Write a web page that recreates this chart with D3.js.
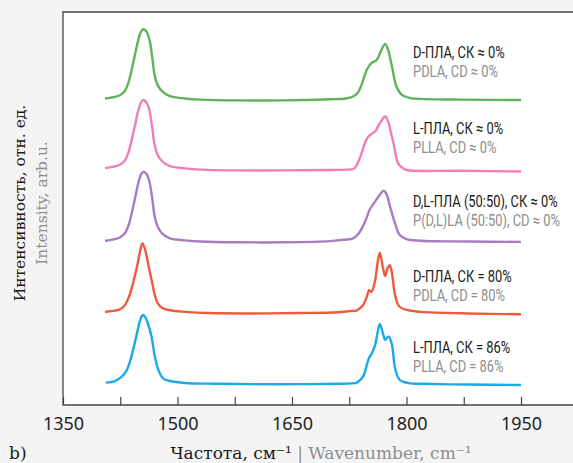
<!DOCTYPE html>
<html>
<head>
<meta charset="utf-8">
<script src="https://cdn.jsdelivr.net/npm/d3@7"></script>
<style>
  html, body { margin: 0; padding: 0; background: #f4f4f4; overflow: hidden; }
  svg { display: block; }
  .axis-title { font-family: 'DejaVu Serif', serif; font-size: 15.5px; }
  .x-title { font-size: 17px; }
  .tick-label { font-family: 'Noto Sans', sans-serif; font-size: 18px; fill: #222; }
  .series-label { font-family: 'Roboto', 'Noto Sans', sans-serif; font-size: 16.5px; }
</style>
</head>
<body>
<svg id="chart"></svg>
<script>
// x axis: ticks every 75 cm-1, labels every 150
const tickValues = [1350, 1425, 1500, 1575, 1650, 1725, 1800, 1875, 1950];
const tickLabels = [1350, 1500, 1650, 1800, 1950];

const namesRu = ['D-ПЛА, СК ≈ 0%', 'L-ПЛА, СК ≈ 0%', 'D,L-ПЛА (50:50), СК ≈ 0%', 'D-ПЛА, СК = 80%', 'L-ПЛА, СК = 86%'];
const namesEn = ['PDLA, CD ≈ 0%', 'PLLA, CD ≈ 0%', 'P(D,L)LA (50:50), CD ≈ 0%', 'PDLA, CD = 80%', 'PLLA, CD = 86%'];

// vertical offset of each spectrum (arb. units)
const offsets = [7.80, 6.03, 4.18, 2.37, 0.57];

// [wavenumber, intensity]
const pdlaAmorph = [
  [1405, 0.00], [1418, 0.04], [1425, 0.09], [1431, 0.19], [1436, 0.42], [1440, 0.73], [1444, 1.08],
  [1448, 1.44], [1452, 1.69], [1455, 1.76], [1459, 1.71], [1463, 1.52], [1467, 1.03], [1470, 0.60],
  [1474, 0.34], [1480, 0.18], [1490, 0.06], [1510, 0.00], [1530, -0.03], [1580, -0.05], [1640, -0.05],
  [1700, -0.02], [1720, 0.00], [1730, 0.05], [1736, 0.14], [1741, 0.34], [1748, 0.73], [1754, 0.90],
  [1761, 0.98], [1767, 1.23], [1772, 1.39], [1776, 1.23], [1781, 0.81], [1787, 0.30], [1794, 0.09],
  [1805, 0.01], [1818, -0.01], [1870, -0.03], [1950, -0.04]
];
const pllaAmorph = [
  [1405, 0.00], [1418, 0.04], [1425, 0.09], [1431, 0.19], [1436, 0.41], [1440, 0.72], [1444, 1.06],
  [1448, 1.42], [1452, 1.66], [1455, 1.73], [1459, 1.68], [1463, 1.49], [1467, 1.01], [1470, 0.59],
  [1474, 0.33], [1480, 0.17], [1490, 0.05], [1510, -0.01], [1530, -0.04], [1580, -0.06], [1640, -0.06],
  [1700, -0.05], [1722, -0.04], [1731, -0.02], [1736, 0.12], [1741, 0.37], [1746, 0.66], [1750, 0.80],
  [1755, 0.88], [1759, 0.93], [1765, 1.14], [1772, 1.31], [1776, 1.18], [1779, 0.95], [1783, 0.63],
  [1789, 0.12], [1795, 0.00], [1800, -0.05], [1870, -0.07], [1950, -0.09]
];
const pdllaAmorph = [
  [1405, 0.00], [1418, 0.04], [1425, 0.09], [1431, 0.19], [1436, 0.40], [1440, 0.70], [1444, 1.04],
  [1448, 1.42], [1452, 1.68], [1455, 1.75], [1459, 1.71], [1463, 1.52], [1467, 1.06], [1470, 0.63],
  [1474, 0.36], [1480, 0.18], [1490, 0.06], [1510, 0.01], [1530, -0.02], [1580, -0.04], [1640, -0.04],
  [1700, -0.01], [1713, 0.02], [1730, 0.06], [1739, 0.23], [1746, 0.50], [1752, 0.80], [1759, 1.00],
  [1765, 1.17], [1770, 1.27], [1774, 1.18], [1778, 0.90], [1785, 0.44], [1791, 0.15], [1800, 0.04],
  [1818, 0.00], [1880, -0.02], [1950, -0.03]
];
const pdlaCryst = [
  [1405, 0.00], [1418, 0.03], [1425, 0.07], [1431, 0.17], [1436, 0.36], [1440, 0.60], [1444, 0.90],
  [1448, 1.25], [1451, 1.55], [1454, 1.74], [1457, 1.62], [1460, 1.38], [1463, 1.08], [1466, 0.82],
  [1470, 0.45], [1474, 0.22], [1480, 0.10], [1490, 0.04], [1510, 0.00], [1540, -0.03], [1600, -0.04],
  [1660, -0.03], [1710, -0.01], [1725, 0.02], [1735, 0.04], [1743, 0.17], [1748, 0.38], [1751, 0.55],
  [1754, 0.51], [1759, 0.81], [1762, 1.23], [1765, 1.50], [1769, 1.14], [1772, 0.91], [1775, 1.10],
  [1778, 1.19], [1781, 0.98], [1785, 0.43], [1791, 0.13], [1805, 0.03], [1818, 0.00], [1880, -0.04],
  [1950, -0.06]
];
const pllaCryst = [
  [1406, 0.00], [1418, 0.04], [1427, 0.15], [1433, 0.30], [1438, 0.55], [1442, 0.85], [1446, 1.17],
  [1450, 1.52], [1453, 1.68], [1455, 1.72], [1458, 1.66], [1462, 1.45], [1466, 1.17], [1470, 0.70],
  [1475, 0.32], [1481, 0.11], [1490, 0.04], [1510, -0.01], [1550, -0.03], [1600, -0.04], [1660, -0.04],
  [1710, -0.03], [1728, -0.02], [1735, 0.00], [1743, 0.15], [1748, 0.45], [1751, 0.63], [1754, 0.72],
  [1759, 0.96], [1762, 1.26], [1765, 1.49], [1769, 1.26], [1772, 1.09], [1775, 1.15], [1777, 1.17],
  [1781, 0.96], [1785, 0.37], [1791, 0.07], [1805, -0.02], [1818, -0.03], [1880, -0.05], [1950, -0.06]
];

const spectra = [pdlaAmorph, pllaAmorph, pdllaAmorph, pdlaCryst, pllaCryst];
const colors = ['#5fb35d', '#f27eb8', '#a97bc1', '#f05a3c', '#1ca9e8'];

const width = 573;
const height = 463;
const plot = { left: 63, top: 12, right: 573, bottom: 405 };

const svg = d3.select('#chart').attr('width', width).attr('height', height);

// white plot area
svg.append('rect')
  .attr('x', plot.left)
  .attr('y', plot.top)
  .attr('width', plot.right - plot.left)
  .attr('height', plot.bottom - plot.top)
  .attr('fill', '#fff');

const x = d3.scaleLinear().domain([1350, 1950]).range([63, 521]);
const y = d3.scaleLinear().domain([0, 10]).range([plot.bottom, plot.top]);

// x axis, ticks pointing inside
const xAxis = svg.append('g')
  .attr('transform', `translate(0,${plot.bottom})`)
  .call(
    d3.axisBottom(x)
      .tickValues(tickValues)
      .tickSize(-8)
      .tickFormat((d) => (tickLabels.includes(d) ? d : ''))
  );
xAxis.select('.domain').remove();
xAxis.selectAll('.tick line').attr('stroke', '#444').attr('stroke-width', 1.2);
xAxis.selectAll('.tick text')
  .attr('class', 'tick-label')
  .attr('y', 12)
  .attr('dy', '0.71em');

// frame: top, left, bottom (open on the right)
svg.append('path')
  .attr('d', `M${plot.right},${plot.top}H${plot.left}V${plot.bottom}H${plot.right}`)
  .attr('fill', 'none')
  .attr('stroke', '#444')
  .attr('stroke-width', 1.3);

const line = d3.line()
  .x((d) => x(d[0]))
  .y((d) => y(d[1]))
  .curve(d3.curveCatmullRom.alpha(0.5));

spectra.forEach((s, i) => {
  svg.append('path')
    .datum(s.map((d) => [d[0], d[1] + offsets[i]]))
    .attr('fill', 'none')
    .attr('stroke', colors[i])
    .attr('stroke-width', 2.4)
    .attr('stroke-linejoin', 'round')
    .attr('d', line);
});

// series labels (condensed look: squeeze horizontally)
const labelTop = [52, 128, 201, 276, 347];
const labels = svg.append('g');
namesRu.forEach((name, i) => {
  labels.append('text')
    .attr('class', 'series-label')
    .attr('x', 0)
    .attr('y', labelTop[i])
    .attr('dy', '0.35em')
    .attr('fill', '#1a1a1a')
    .text(name);
  labels.append('text')
    .attr('class', 'series-label')
    .attr('x', 0)
    .attr('y', labelTop[i] + 19.5)
    .attr('dy', '0.35em')
    .attr('fill', '#8d8d8d')
    .text(namesEn[i]);
});
// widest label is about 147px wide in the original
const widest = d3.max(labels.selectAll('text').nodes(), (n) => n.getComputedTextLength());
labels.attr('transform', `translate(413,0) scale(${147 / widest},1)`);

// y title, two lines
svg.append('text')
  .attr('class', 'axis-title')
  .attr('transform', 'translate(20,203) rotate(-90)')
  .attr('text-anchor', 'middle')
  .attr('dy', '0.35em')
  .attr('fill', '#1a1a1a')
  .text('Интенсивность, отн. ед.');
svg.append('text')
  .attr('class', 'axis-title')
  .attr('transform', 'translate(42,203) rotate(-90)')
  .attr('text-anchor', 'middle')
  .attr('dy', '0.35em')
  .attr('fill', '#8d8d8d')
  .text('Intensity, arb.u.');

// x title
const xTitle = svg.append('text')
  .attr('class', 'axis-title x-title')
  .attr('x', 321)
  .attr('y', 459)
  .attr('text-anchor', 'middle');
xTitle.append('tspan').attr('fill', '#1a1a1a').text('Частота, см⁻¹');
xTitle.append('tspan').attr('fill', '#8d8d8d').text(' | Wavenumber, cm⁻¹');

svg.append('text')
  .attr('class', 'axis-title x-title')
  .attr('x', 9)
  .attr('y', 459)
  .attr('fill', '#1a1a1a')
  .text('b)');
</script>
</body>
</html>
